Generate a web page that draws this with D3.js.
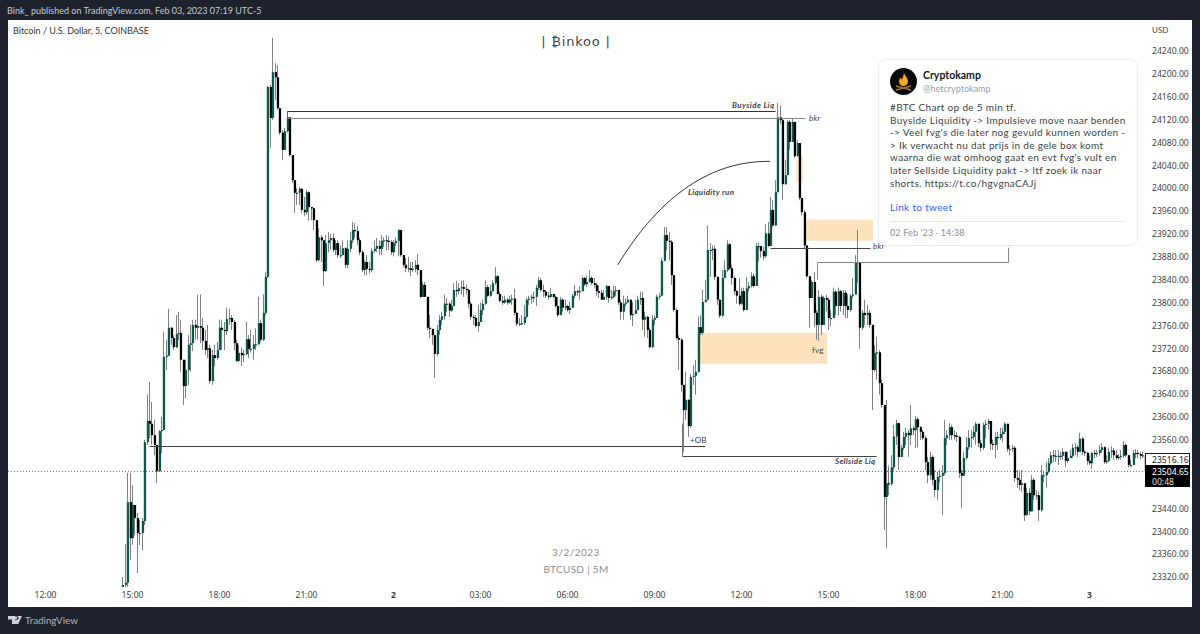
<!DOCTYPE html>
<html><head><meta charset="utf-8">
<script src="https://cdn.jsdelivr.net/npm/d3@7"></script>
<style>
html,body{margin:0;padding:0;background:#1e222d;overflow:hidden}
svg{display:block}
text{font-family:"Lato","Noto Sans",sans-serif}
</style></head><body>
<div id="chart"></div>
<script>
const closes=[
23306,23310,23451,23388,23446,23423,23397,23397,23418,23556,
23593,23588,23568,23551,23505,23575,23577,23705,23707,23756,
23738,23722,23745,23747,23700,23654,23682,23726,23729,23761,
23756,23759,23756,23733,23717,23720,23663,23708,23703,23717,
23756,23752,23750,23771,23773,23766,23729,23698,23712,23708,
23710,23736,23719,23719,23727,23727,23764,23735,23782,23845,
24177,24123,24203,24194,24140,24097,24067,24100,24124,24058,
24014,23992,23992,23999,23962,23958,23993,23967,23965,23944,
23874,23914,23909,23855,23904,23909,23913,23892,23904,23883,
23883,23895,23866,23894,23909,23927,23925,23909,23888,23857,
23871,23859,23857,23890,23894,23899,23894,23908,23909,23908,
23906,23888,23904,23908,23927,23883,23866,23860,23860,23857,
23859,23866,23857,23810,23831,23810,23756,23754,23743,23710,
23752,23770,23776,23798,23798,23786,23794,23822,23820,23825,
23827,23824,23822,23798,23775,23773,23759,23766,23787,23798,
23827,23812,23820,23834,23846,23815,23803,23800,23805,23800,
23805,23807,23782,23763,23763,23764,23775,23805,23807,23810,
23810,23826,23839,23822,23819,23812,23810,23815,23810,23794,
23778,23805,23791,23794,23787,23791,23812,23820,23819,23820,
23843,23832,23836,23843,23834,23831,23820,23817,23805,23810,
23829,23808,23810,23820,23822,23800,23784,23798,23800,23805,
23778,23780,23787,23805,23808,23770,23775,23752,23722,
23770,23773,23810,23812,23873,23918,23908,23906,23848,23787,
23738,23735,23656,23612,23630,23584,23670,23672,23679,23757,
23747,23801,23805,23892,23892,23894,23845,23805,23777,23843,
23857,23902,23860,23843,23820,23812,23798,23820,23787,23825,
23829,23846,23829,23899,23899,23890,23881,23921,23899,23962,
23935,23993,24124,24119,24007,24023,24116,24081,24116,24056,
24079,23983,23958,23900,23846,23808,23836,23782,23761,23810,
23761,23808,23805,23773,23773,23819,23794,23820,23794,23817,
23794,23787,23812,23814,23871,23871,23756,23782,23778,23782,
23761,23682,23712,23713,23659,23621,
23460,23484,23483,23512,23566,23589,23530,23546,23565,23572,
23568,23580,23577,23596,23582,23574,23563,23521,23498,23530,
23490,23472,23495,23497,23502,23563,23568,23582,23568,23567,
23565,23502,23497,23528,23547,23563,23565,23574,23588,23554,
23546,23586,23588,23593,23553,23551,23565,23563,23570,23574,
23588,23544,23544,23546,23493,23490,23481,23484,23428,23467,
23435,23490,23463,23463,23437,23498,23498,23504,23519,23533,
23532,23532,23532,23532,23539,23523,23528,23532,23546,23547,
23539,23562,23539,23537,23523,23519,23537,23535,23537,23542,
23547,23521,23523,23539,23541,23533,23528,23530,23532,23551,
23533,23516,23516,23537,23537,23535,23532,23533,23505];
const highs=[
23320,23378,23502,23502,23481,23446,23432,23420,23423,23560,
23639,23661,23626,23595,23546,23577,23600,23749,23735,23789,
23757,23743,23778,23784,23770,23700,23700,23743,23761,23770,
23770,23814,23814,23773,23752,23761,23726,23717,23726,23731,
23770,23770,23766,23791,23789,23778,23770,23735,23726,23721,
23717,23766,23743,23752,23743,23755,23810,23770,23814,23854,
24179,24181,24263,24219,24215,24140,24102,24105,24135,24123,
24058,24014,24000,24002,24000,23985,23997,23995,23967,23965,
23943,23930,23918,23909,23918,23923,23920,23921,23909,23909,
23900,23909,23897,23909,23923,23941,23939,23935,23913,23892,
23874,23883,23871,23895,23909,23913,23909,23918,23914,23918,
23916,23909,23909,23914,23928,23927,23883,23878,23880,23871,
23871,23874,23885,23857,23836,23836,23810,23778,23752,23743,
23761,23778,23784,23814,23808,23801,23805,23834,23838,23834,
23838,23839,23831,23824,23801,23778,23778,23796,23800,23805,
23839,23831,23831,23839,23862,23848,23819,23812,23812,23808,
23812,23814,23824,23784,23773,23778,23796,23808,23812,23814,
23819,23831,23845,23843,23831,23822,23819,23826,23815,23812,
23810,23810,23808,23805,23796,23801,23815,23831,23822,23829,
23846,23845,23848,23857,23846,23843,23834,23829,23822,23822,
23831,23829,23822,23829,23829,23822,23805,23812,23808,23812,
23800,23801,23805,23812,23819,23819,23784,23777,23756,
23778,23777,23814,23817,23878,23932,23932,23923,23909,23848,
23791,23743,23738,23656,23679,23630,23675,23691,23700,23775,
23778,23822,23839,23935,23904,23900,23900,23845,23805,23857,
23874,23909,23904,23866,23846,23822,23843,23826,23826,23845,
23836,23853,23850,23904,23904,23899,23897,23937,23941,23985,
23979,24014,24149,24145,24121,24049,24119,24119,24121,24116,
24084,24079,23983,23962,23900,23846,23839,23853,23787,23822,
23814,23812,23814,23808,23787,23826,23822,23826,23822,23822,
23822,23814,23815,23843,23883,23927,23871,23787,23805,23796,
23787,23761,23726,23740,23717,23665,
23621,23630,23515,23533,23586,23595,23590,23551,23574,23581,
23577,23621,23584,23602,23600,23584,23577,23567,23530,23539,
23533,23507,23504,23507,23516,23595,23577,23589,23586,23577,
23574,23567,23507,23539,23565,23577,23577,23584,23591,23586,
23560,23590,23595,23597,23591,23560,23574,23574,23581,23581,
23591,23588,23551,23551,23549,23507,23507,23507,23477,23476,
23476,23498,23493,23472,23469,23516,23507,23521,23528,23539,
23542,23542,23542,23539,23546,23533,23539,23542,23553,23554,
23551,23572,23565,23542,23539,23533,23539,23542,23542,23551,
23554,23549,23533,23546,23549,23546,23542,23535,23542,23558,
23554,23533,23525,23542,23544,23542,23539,23539,23533];
const lows=[
23280,23280,23297,23350,23376,23394,23327,23376,23367,23411,
23551,23563,23551,23533,23484,23504,23537,23665,23682,23707,
23726,23717,23720,23735,23679,23621,23633,23656,23679,23715,
23735,23735,23729,23717,23708,23703,23658,23656,23689,23700,
23717,23717,23717,23743,23761,23752,23717,23696,23696,23689,
23696,23708,23703,23713,23700,23717,23726,23731,23733,23778,
23843,24070,24119,24154,24137,24093,24049,24067,24097,24055,
24009,23957,23971,23971,23957,23951,23953,23943,23944,23927,
23871,23872,23871,23829,23853,23888,23892,23888,23883,23878,
23878,23883,23860,23860,23888,23904,23913,23900,23883,23853,
23848,23848,23851,23853,23887,23888,23883,23883,23897,23892,
23892,23883,23881,23899,23881,23880,23862,23853,23853,23846,
23853,23853,23848,23808,23810,23810,23752,23738,23726,23668,
23706,23743,23761,23770,23784,23775,23784,23794,23810,23814,
23814,23810,23814,23791,23770,23761,23756,23749,23766,23778,
23796,23810,23810,23819,23831,23814,23800,23796,23798,23796,
23798,23796,23778,23759,23759,23761,23761,23773,23796,23798,
23801,23794,23822,23819,23810,23808,23805,23808,23807,23791,
23775,23778,23784,23787,23784,23780,23791,23808,23812,23805,
23819,23829,23827,23834,23831,23826,23812,23808,23805,23805,
23805,23800,23805,23807,23812,23796,23770,23770,23794,23800,
23770,23759,23784,23787,23796,23752,23740,23738,23720,
23720,23761,23773,23805,23812,23872,23892,23874,23831,23784,
23735,23682,23644,23539,23595,23565,23581,23656,23639,23677,
23743,23743,23800,23805,23845,23874,23839,23796,23773,23775,
23853,23853,23857,23831,23814,23798,23794,23796,23784,23787,
23819,23826,23826,23829,23872,23878,23874,23878,23897,23899,
23932,23934,23993,24112,23979,24006,24025,24067,24081,24053,
24055,23979,23953,23895,23843,23756,23808,23757,23735,23733,
23743,23761,23784,23752,23759,23773,23778,23777,23784,23778,
23773,23773,23784,23808,23817,23834,23719,23752,23761,23761,
23756,23612,23679,23665,23639,23616,
23402,23371,23463,23479,23507,23551,23507,23530,23542,23551,
23530,23551,23568,23546,23547,23560,23560,23507,23484,23490,
23481,23460,23455,23486,23428,23498,23551,23560,23560,23560,
23556,23493,23441,23497,23525,23542,23546,23560,23551,23547,
23539,23542,23563,23577,23542,23542,23528,23542,23560,23556,
23570,23539,23533,23539,23486,23476,23472,23469,23418,23428,
23428,23434,23455,23455,23418,23434,23486,23476,23502,23516,
23521,23521,23516,23525,23525,23512,23519,23528,23528,23533,
23530,23539,23533,23532,23516,23516,23509,23528,23530,23532,
23537,23518,23518,23521,23528,23525,23525,23525,23525,23528,
23530,23512,23512,23516,23528,23528,23526,23528,23505];
const firstOpen=23270;
const firstBarTime=Date.UTC(2023,1,1,14,40);
const barMinutes=5;

const priceTicks=[24240,24200,24160,24120,24080,24040,24000,23960,23920,23880,23840,23800,23760,23720,23680,23640,23600,23560,23440,23400,23360,23320];
const timeTicks=[[1,12,"12:00"],[1,15,"15:00"],[1,18,"18:00"],[1,21,"21:00"],[2,0,"2"],[2,3,"03:00"],[2,6,"06:00"],[2,9,"09:00"],[2,12,"12:00"],[2,15,"15:00"],[2,18,"18:00"],[2,21,"21:00"],[3,0,"3"]];
const tweetLines=["#BTC Chart op de 5 min tf.","Buyside Liquidity -> Impulsieve move naar benden","-> Veel fvg's die later nog gevuld kunnen worden -","> Ik verwacht nu dat prijs in de gele box komt","waarna die wat omhoog gaat en evt fvg's vult en","later Sellside Liquidity pakt -> ltf zoek ik naar","shorts. https://t.co/hgvgnaCAJj"];
const lastPrice=23504.65, highTag=23516.16;

const W=1200,H=634;
const t=(d,h,m=0)=>new Date(Date.UTC(2023,1,d,h,m));
const x=d3.scaleTime().domain([t(1,12),t(3,0)]).range([45,1089]);
const y=d3.scaleLinear().domain([24240,23320]).range([51,577]);

const svg=d3.select("#chart").append("svg").attr("width",W).attr("height",H);
svg.append("rect").attr("width",W).attr("height",H).attr("fill","#1e222d");
svg.append("rect").attr("x",8).attr("y",20).attr("width",1184).attr("height",587).attr("fill","#fff");
svg.append("defs").append("clipPath").attr("id","plot").append("rect").attr("x",8).attr("y",20).attr("width",1137).attr("height",567);

// zones
const zones=[[t(2,10,30),t(2,14,58),23747,23693],[t(2,14,15),t(2,16,33),23945,23908],[t(2,13,55),t(2,14,8),24055,24010]];
svg.append("g").selectAll("rect").data(zones).join("rect")
 .attr("x",d=>x(d[0])).attr("width",d=>x(d[1])-x(d[0]))
 .attr("y",d=>y(d[2])).attr("height",d=>y(d[3])-y(d[2])).attr("fill","#fde3bd");

// last price dotted
svg.append("line").attr("x1",8).attr("x2",1145).attr("y1",y(lastPrice)).attr("y2",y(lastPrice))
 .attr("stroke","#6d6f75").attr("stroke-dasharray","1 2");

// candles
const bars=closes.map((c,i)=>{const o=i?closes[i-1]:firstOpen;
 return {time:new Date(firstBarTime+i*barMinutes*60000),o,c,h:Math.max(highs[i],o,c),l:Math.min(lows[i],o,c)}});
const cg=svg.append("g").attr("clip-path","url(#plot)");
cg.selectAll("line").data(bars).join("line")
 .attr("x1",d=>Math.round(x(d.time))+.5).attr("x2",d=>Math.round(x(d.time))+.5)
 .attr("y1",d=>y(d.h)).attr("y2",d=>y(d.l)).attr("stroke","#7f8187");
cg.selectAll("rect").data(bars).join("rect")
 .attr("x",d=>Math.round(x(d.time))-.2).attr("width",2.3)
 .attr("y",d=>y(Math.max(d.o,d.c))).attr("height",d=>Math.max(1.2,Math.abs(y(d.o)-y(d.c))))
 .attr("fill",d=>d.c>=d.o?"#0a5a4c":"#000");

// annotation lines
const seg=(a,b,c,d,col,w=1)=>svg.append("path").attr("d",`M${Math.round(x(a))+.5},${Math.round(y(b))+.5}L${Math.round(x(c))+.5},${Math.round(y(d))+.5}`).attr("stroke",col).attr("stroke-width",w).attr("fill","none");
seg(t(1,20,20),24135,t(2,13,10),24135,"#333");
seg(t(1,20,20),24123,t(2,14,13),24123,"#888");
seg(t(1,20,20),24123,t(1,20,20),24135,"#666");
seg(t(2,13,0),23896,t(2,16,27),23896,"#444");
seg(t(1,15,35),23549,t(2,10,45),23549,"#444");
seg(t(2,9,57),23532,t(2,16,40),23532,"#444");
seg(t(2,9,57),23532,t(2,9,57),23590,"#777");
// tweet connector
svg.append("path").attr("d",`M${Math.round(x(t(2,14,38)))+.5},${y(23840)}V${Math.round(y(23871))+.5}H${Math.round(x(t(2,21,12)))+.5}V${y(23896)}`).attr("fill","none").attr("stroke","#888");

// curve
svg.append("path").attr("d",`M${x(t(2,7,45))},${y(23866)}C${x(t(2,9,15))},${y(23990)} ${x(t(2,11,0))},${y(24048)} ${x(t(2,13,0))},${y(24047)}`).attr("fill","none").attr("stroke","#333");

// labels
const lab=(s,px,py,o={})=>svg.append("text").attr("x",px).attr("y",py).text(s).attr("font-size",o.fs||8).attr("fill",o.c||"#444").attr("font-style",o.it?"italic":"normal").attr("font-weight",o.b?"bold":"normal").attr("text-anchor",o.a||"start").attr("letter-spacing",o.ls||0);
lab("Buyside Liq",732,108,{it:1,b:1,ls:.4});
lab("bkr",809,121,{it:1,ls:.3});
lab("Liquidity run",688,195,{it:1,b:1,ls:.3});
lab("bkr",873,249,{it:1,ls:.3});
lab("+OB",690,443,{ls:.1});
lab("fvg",812,353,{ls:.2});
lab("Sellside Liq",835,464,{it:1,b:1,ls:.3});

// axes
const ya=d3.axisRight(y).tickValues(priceTicks).tickSize(0).tickPadding(0).tickFormat(d3.format(".2f"));
const yg=svg.append("g").attr("transform","translate(1152,0)").call(ya);
yg.select(".domain").remove();
yg.selectAll("text").attr("font-size",8.6).attr("fill","#3d3f45").style("font-family",'"Noto Sans",sans-serif');
const xa=d3.axisBottom(x).tickValues(timeTicks.map(d=>t(d[0],d[1]))).tickSize(0).tickPadding(0)
 .tickFormat((d,i)=>timeTicks[i][2]);
const xg=svg.append("g").attr("transform","translate(0,592)").call(xa);
xg.select(".domain").remove();
xg.selectAll("text").attr("font-size",8.6).attr("fill","#3d3f45").attr("font-weight",(d,i)=>timeTicks[i][2].length<2?"bold":"normal").style("font-family",'"Noto Sans",sans-serif');

// tags
const nf='"Noto Sans",sans-serif';
svg.append("rect").attr("x",1145.5).attr("y",453.5).attr("width",44).attr("height",12).attr("fill","#fff").attr("stroke","#222");
svg.append("text").attr("x",1152).attr("y",462.5).text(highTag.toFixed(2)).attr("font-size",8.6).attr("fill","#222").style("font-family",nf);
svg.append("rect").attr("x",1145).attr("y",465).attr("width",45).attr("height",22).attr("fill","#000");
svg.append("text").attr("x",1152).attr("y",474.5).text(lastPrice.toFixed(2)).attr("font-size",8.6).attr("fill","#fff").style("font-family",nf);
svg.append("text").attr("x",1152).attr("y",484.5).text("00:48").attr("font-size",8.6).attr("fill","#ddd").style("font-family",nf);
svg.append("text").attr("x",1152).attr("y",33).text("USD").attr("font-size",8).attr("fill","#3d3f45");

// titles
svg.append("text").attr("x",7).attr("y",14).text("Bink_ published on TradingView.com, Feb 03, 2023 07:19 UTC-5").attr("font-size",9).attr("fill","#c7cad1");
svg.append("text").attr("x",13).attr("y",34).text("Bitcoin / U.S. Dollar, 5, COINBASE").attr("font-size",9).attr("fill","#333");
svg.append("text").attr("x",576).attr("y",46).attr("text-anchor","middle").text("| ₿inkoo |").attr("font-size",13).attr("letter-spacing",.8).attr("fill","#444").style("font-family",'"DejaVu Sans",sans-serif');
svg.append("text").attr("x",576).attr("y",556).attr("text-anchor","middle").text("3/2/2023").attr("font-size",10).attr("letter-spacing",.5).attr("fill","#8a8d94");
svg.append("text").attr("x",576).attr("y",573).attr("text-anchor","middle").text("BTCUSD | 5M").attr("font-size",10).attr("letter-spacing",.3).attr("fill","#8a8d94");

// tv logo
svg.append("path").attr("d","M8 616h7.5v8h-3.5v-4.5h-4zM17 616.5a1.6 1.6 0 1 0 .01 0zM18 616h4l-3.8 8h-4z").attr("fill","#d1d4dc");
svg.append("text").attr("x",25).attr("y",624).text("TradingView").attr("font-size",9.8).attr("fill","#b2b5be");

// tweet card
svg.append("rect").attr("x",878.5).attr("y",59.5).attr("width",259).attr("height",186).attr("rx",8).attr("fill","#fff").attr("stroke","#e9eaf0");
svg.append("circle").attr("cx",903.5).attr("cy",81.5).attr("r",13.5).attr("fill","#0a0a0a");
svg.append("path").attr("d","M904 73c1 3 4 5 4 8.5a4.5 4.5 0 0 1-9 0c0-2 1-3 2-4 0 1 .5 2 1 2 .7-2 1.5-4 2-6.5z").attr("fill","#f5a623");
svg.append("path").attr("d","M896 86l15 4M911 86l-15 4").attr("stroke","#a8743a").attr("stroke-width",1.4);
svg.append("text").attr("x",923).attr("y",79).text("Cryptokamp").attr("font-size",10.5).attr("font-weight","bold").attr("fill","#131722");
svg.append("text").attr("x",923).attr("y",92).text("@hetcryptokamp").attr("font-size",9).attr("fill","#9a9ea8");
svg.append("g").selectAll("text").data(tweetLines).join("text")
 .attr("x",890).attr("y",(d,i)=>111+i*12.6).text(d=>d).attr("font-size",10).attr("letter-spacing",.33).attr("fill","#3c3f48");
svg.append("text").attr("x",890).attr("y",211).text("Link to tweet").attr("font-size",10).attr("letter-spacing",.33).attr("fill","#2962ff");
svg.append("line").attr("x1",890).attr("x2",1125).attr("y1",221.5).attr("y2",221.5).attr("stroke","#e6e7ec");
svg.append("text").attr("x",890).attr("y",236).text("02 Feb '23 · 14:38").attr("font-size",9).attr("letter-spacing",.15).attr("fill","#8d909a");
</script>
</body></html>
